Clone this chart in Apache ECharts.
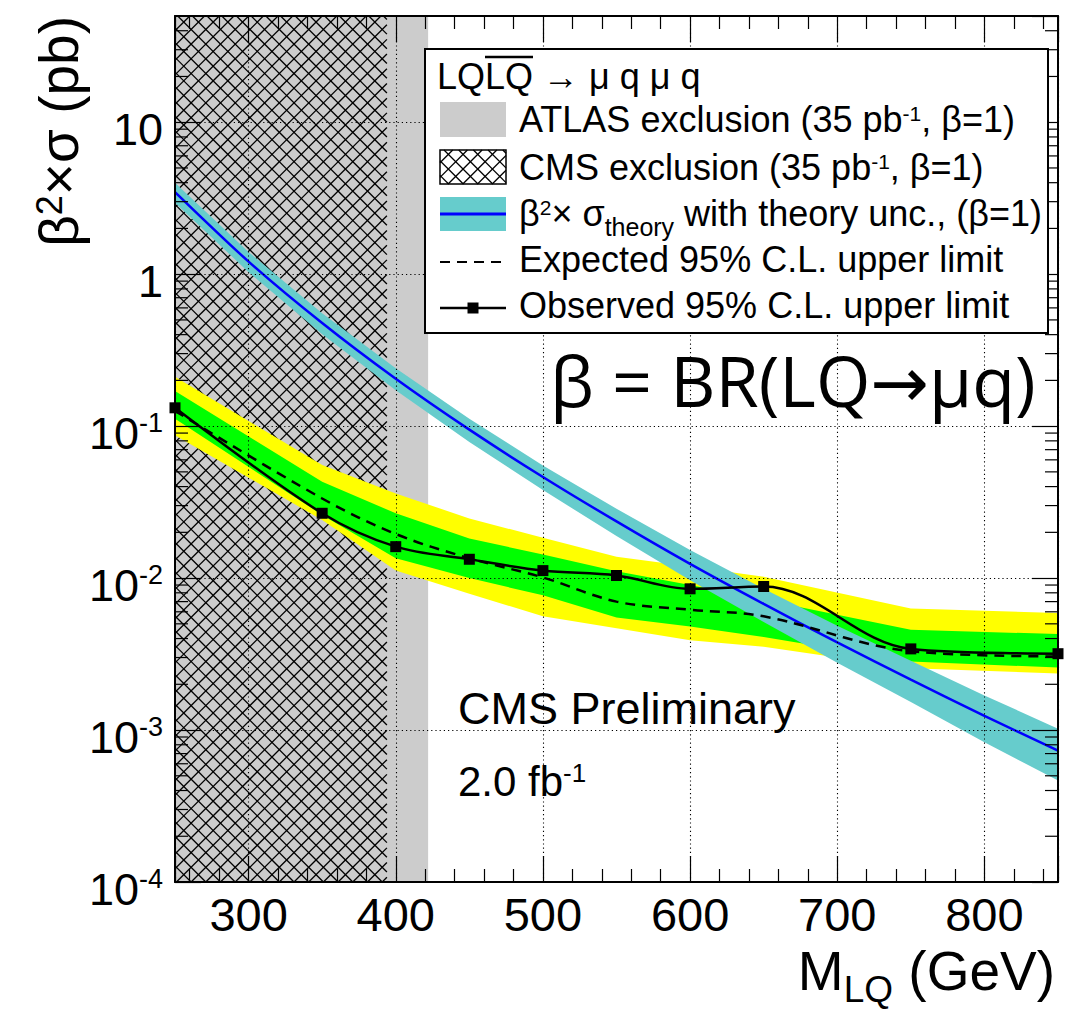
<!DOCTYPE html>
<html>
<head>
<meta charset="utf-8">
<script src="https://cdn.jsdelivr.net/npm/echarts@6/dist/echarts.min.js"></script>
<style>
html,body{margin:0;padding:0;background:#fff;}
#chart{width:1067px;height:1013px;}
</style>
</head>
<body>
<div id="chart"></div>
<script>
// ---------------- data ----------------
const massPoints    = [250, 350, 400, 450, 500, 550, 600, 650, 750, 850];
const observedLimit = [0.132, 0.0267, 0.0161, 0.0133, 0.0112, 0.0104, 0.0085, 0.0088, 0.00342, 0.00318];
const expectedLimit = [0.126, 0.0334, 0.0195, 0.0135, 0.0101, 0.0070, 0.0062, 0.0056, 0.0033, 0.00305];
const oneSigmaUp    = [0.170, 0.0430, 0.0267, 0.0182, 0.0143, 0.0111, 0.0090, 0.0072, 0.00457, 0.00428];
const oneSigmaDown  = [0.112, 0.0260, 0.0135, 0.0100, 0.0077, 0.0055, 0.0048, 0.0041, 0.00282, 0.00258];
const twoSigmaUp    = [0.211, 0.0554, 0.0360, 0.0247, 0.0184, 0.0138, 0.0119, 0.0102, 0.0063, 0.0059];
const twoSigmaDown  = [0.087, 0.0241, 0.0112, 0.0079, 0.0056, 0.00467, 0.0039, 0.00353, 0.00255, 0.00236];

const theoryMass = [250, 300, 350, 400, 450, 500, 550, 600, 650, 700, 750, 800, 850];
const theoryXsec = [3.47, 1.21, 0.477, 0.205, 0.0948, 0.0463, 0.0236, 0.0124, 0.00676, 0.00377, 0.00215, 0.00124, 0.000732];
const theoryUp   = [3.99, 1.40, 0.553, 0.240, 0.112, 0.0551, 0.0286, 0.0153, 0.00852, 0.00486, 0.00286, 0.00169, 0.00102];
const theoryDown = [2.95, 1.03, 0.403, 0.172, 0.0787, 0.0380, 0.0189, 0.00967, 0.00514, 0.00277, 0.00153, 0.000831, 0.000465];

const atlasExclusion = 422;   // GeV
const cmsExclusion   = 394;   // GeV

const xRange = [250, 850];
const yRange = [1e-4, 50];
const yTickLabels = { '-4': '10^-4', '-3': '10^-3', '-2': '10^-2', '-1': '10^-1', '0': '1', '1': '10' };
const yMinorTicks = [
  2e-4, 3e-4, 4e-4, 5e-4, 6e-4, 7e-4, 8e-4, 9e-4,
  2e-3, 3e-3, 4e-3, 5e-3, 6e-3, 7e-3, 8e-3, 9e-3,
  2e-2, 3e-2, 4e-2, 5e-2, 6e-2, 7e-2, 8e-2, 9e-2,
  0.2, 0.3, 0.4, 0.5, 0.6, 0.7, 0.8, 0.9,
  2, 3, 4, 5, 6, 7, 8, 9,
  20, 30, 40
];

// ---------------- styling ----------------
const F = '"Liberation Sans", Arial, Helvetica, sans-serif';
const GRAY = '#cccccc', CYAN = '#66cccc', BLUE = '#0000ff', GREEN = '#00ff00', YELLOW = '#ffff00';
const HATCH = 14.7;

function hatchLines(x0, y0, x1, y1, d, lw) {
  const out = [];
  const st = { stroke: '#000', lineWidth: lw };
  for (let c = Math.floor((y0 - x1) / d) * d; c <= y1 - x0; c += d) {
    const xa = Math.max(x0, y0 - c), xb = Math.min(x1, y1 - c);
    if (xb > xa) out.push({ type: 'line', shape: { x1: xa, y1: xa + c, x2: xb, y2: xb + c }, style: st });
  }
  for (let c = Math.floor((x0 + y0) / d) * d; c <= x1 + y1; c += d) {
    const xa = Math.max(x0, c - y1), xb = Math.min(x1, c - y0);
    if (xb > xa) out.push({ type: 'line', shape: { x1: xa, y1: c - xa, x2: xb, y2: c - xb }, style: st });
  }
  return out;
}

function bandSeries(name, xs, lo, hi, color, z) {
  return {
    type: 'custom', name: name, z: z, silent: true,
    data: xs.map((x, i) => [x, lo[i], hi[i]]),
    encode: { x: 0, y: [1, 2] },
    renderItem: function (params, api) {
      if (params.dataIndex !== 0) return null;
      const n = params.dataInsideLength;
      const pts = [];
      for (let j = 0; j < n; j++) pts.push(api.coord([api.value(0, j), api.value(2, j)]));
      for (let j = n - 1; j >= 0; j--) pts.push(api.coord([api.value(0, j), api.value(1, j)]));
      return { type: 'polygon', shape: { points: pts }, style: { fill: color } };
    }
  };
}

const chart = echarts.init(document.getElementById('chart'), null, { renderer: 'svg' });

const tickLine = { color: '#000', width: 1.2 };
const frameLine = { show: true, onZero: false, lineStyle: { color: '#000', width: 2 } };
const gridLine = { show: true, lineStyle: { color: '#000', width: 1.1, type: [1.2, 3] } };

const legendRich = {
  t: { fontFamily: F, fontSize: 36, lineHeight: 40, verticalAlign: 'top', color: '#000' },
  s: { fontFamily: F, fontSize: 21, lineHeight: 21, padding: [2, 0, 0, 0], verticalAlign: 'top', color: '#000' },
  d: { fontFamily: F, fontSize: 25, lineHeight: 25, padding: [19, 0, 0, 0], verticalAlign: 'top', color: '#000' }
};
function legendText(text, x, y) {
  return { type: 'text', x: x, y: y, z: 102, style: { text: text, fontFamily: F, fontSize: 36, fill: '#000', align: 'left', verticalAlign: 'middle', rich: legendRich } };
}

const LX0 = 440, LX1 = 506;
const legendGraphics = [
  { type: 'rect', z: 100, shape: { x: 425, y: 49, width: 623, height: 284 }, style: { fill: '#fff', stroke: '#000', lineWidth: 2 } },
  legendText('{t|LQLQ → μ q μ q}', 437, 78),
  { type: 'line', z: 102, shape: { x1: 485, y1: 57, x2: 533, y2: 57 }, style: { stroke: '#000', lineWidth: 2.5 } },
  { type: 'rect', z: 101, shape: { x: LX0, y: 102, width: LX1 - LX0, height: 35 }, style: { fill: GRAY } },
  legendText('{t|ATLAS exclusion (35 pb}{s|-1}{t|, β=1)}', 519, 121),
  { type: 'group', z: 101, children: hatchLines(LX0, 150, LX1, 184, HATCH, 1.3).map(e => Object.assign(e, { z: 101 })) },
  { type: 'rect', z: 102, shape: { x: LX0, y: 150, width: LX1 - LX0, height: 34 }, style: { fill: 'none', stroke: '#000', lineWidth: 1.5 } },
  legendText('{t|CMS exclusion (35 pb}{s|-1}{t|, β=1)}', 519, 169),
  { type: 'rect', z: 101, shape: { x: LX0, y: 197, width: LX1 - LX0, height: 34 }, style: { fill: CYAN } },
  { type: 'line', z: 102, shape: { x1: LX0, y1: 214, x2: LX1, y2: 214 }, style: { stroke: BLUE, lineWidth: 3 } },
  legendText('{t|β}{s|2}{t|× σ}{d|theory}{t| with theory unc., (β=1)}', 519, 215),
  { type: 'line', z: 102, shape: { x1: LX0, y1: 262, x2: LX1, y2: 262 }, style: { stroke: '#000', lineWidth: 2, lineDash: [10, 7] } },
  legendText('{t|Expected 95% C.L. upper limit}', 519, 261),
  { type: 'line', z: 102, shape: { x1: LX0, y1: 308, x2: LX1, y2: 308 }, style: { stroke: '#000', lineWidth: 2.5 } },
  { type: 'rect', z: 102, shape: { x: 467.5, y: 302.5, width: 11, height: 11 }, style: { fill: '#000' } },
  legendText('{t|Observed 95% C.L. upper limit}', 519, 307)
];

const textGraphics = [
  { type: 'text', x: 550, y: 380, z: 8, style: { text: 'β = BR(LQ→μq)', fontFamily: '"Open Sans", "DejaVu Sans", sans-serif', fontSize: 70, fill: '#000', align: 'left', verticalAlign: 'middle' } },
  { type: 'text', x: 458, y: 708, z: 8, style: { text: 'CMS Preliminary', fontFamily: F, fontSize: 45, fill: '#000', align: 'left', verticalAlign: 'middle' } },
  { type: 'text', x: 458, y: 781, z: 8, style: { text: '{t|2.0 fb}{s|-1}', fontFamily: F, fontSize: 42, fill: '#000', align: 'left', verticalAlign: 'middle',
      rich: { t: { fontFamily: F, fontSize: 42, lineHeight: 42, verticalAlign: 'top' }, s: { fontFamily: F, fontSize: 26, lineHeight: 26, verticalAlign: 'top' } } } }
];

const option = {
  animation: false,
  backgroundColor: '#ffffff',
  grid: { left: 175, right: 9, top: 16, bottom: 131, containLabel: false, outerBoundsMode: 'none' },
  xAxis: [
    {
      type: 'value', min: xRange[0], max: xRange[1], splitNumber: 6, z: 10,
      axisLine: frameLine,
      axisTick: { show: true, inside: true, length: 26, lineStyle: tickLine },
      minorTick: { show: true, splitNumber: 5, length: 13, lineStyle: tickLine },
      splitLine: gridLine,
      axisLabel: { show: true, margin: 9, fontFamily: F, fontSize: 47, color: '#000', showMinLabel: false, showMaxLabel: false },
      name: '{m|M}{sub|LQ}{m| (GeV)}',
      nameLocation: 'end', nameGap: -3, nameMoveOverlap: false,
      nameTextStyle: {
        align: 'right', verticalAlign: 'top', padding: [61, 0, 0, 0], color: '#000',
        rich: {
          m: { fontFamily: F, fontSize: 55, lineHeight: 55, verticalAlign: 'top', color: '#000' },
          sub: { fontFamily: F, fontSize: 37, lineHeight: 32, padding: [28, 0, 0, 0], verticalAlign: 'top', color: '#000' }
        }
      }
    },
    {
      type: 'value', position: 'top', min: xRange[0], max: xRange[1], splitNumber: 6, z: 10,
      axisLine: frameLine,
      axisTick: { show: true, inside: true, length: 26, lineStyle: tickLine },
      minorTick: { show: true, splitNumber: 5, length: 13, lineStyle: tickLine },
      splitLine: { show: false },
      axisLabel: { show: false }
    }
  ],
  yAxis: [
    {
      type: 'log', logBase: 10, min: yRange[0], max: yRange[1], splitNumber: 6, z: 10,
      axisLine: frameLine,
      axisTick: { show: true, inside: true, length: 26, lineStyle: tickLine },
      minorTick: { show: false },
      splitLine: gridLine,
      axisLabel: {
        show: true, margin: 12, showMaxLabel: false,
        formatter: function (v) {
          const lab = yTickLabels[String(Math.round(Math.log10(v)))];
          if (!lab) return '';
          const parts = lab.split('^');
          return parts.length === 1 ? '{b|' + parts[0] + '}' : '{b|' + parts[0] + '}{s|' + parts[1] + '}';
        },
        rich: {
          b: { fontFamily: F, fontSize: 45, lineHeight: 50, padding: [10, 0, 0, 0], verticalAlign: 'top', color: '#000' },
          s: { fontFamily: F, fontSize: 27, lineHeight: 28, padding: [8, 0, 0, 0], verticalAlign: 'top', color: '#000' }
        }
      },
      name: '{b|β}{s|2}{b|×σ (pb)}',
      nameLocation: 'end', nameRotate: 90, nameGap: 0, nameMoveOverlap: false,
      nameTextStyle: {
        align: 'right', verticalAlign: 'bottom', padding: [0, 0, 84, 0], color: '#000',
        rich: {
          b: { fontFamily: F, fontSize: 55, lineHeight: 60, verticalAlign: 'top', color: '#000' },
          s: { fontFamily: F, fontSize: 36, lineHeight: 36, verticalAlign: 'top', color: '#000' }
        }
      }
    },
    {
      type: 'log', logBase: 10, position: 'right', min: yRange[0], max: yRange[1], splitNumber: 6, z: 10,
      axisLine: frameLine,
      axisTick: { show: true, inside: true, length: 26, lineStyle: tickLine },
      minorTick: { show: false },
      splitLine: { show: false },
      axisLabel: { show: false }
    }
  ],
  graphic: { elements: textGraphics.concat(legendGraphics) },
  series: [
    {
      type: 'custom', name: 'ATLAS exclusion', z: 1, silent: true,
      data: [[atlasExclusion, 1]], encode: { x: 0, y: 1 },
      renderItem: function (params, api) {
        const cs = params.coordSys;
        const x1 = api.coord([api.value(0), api.value(1)])[0];
        return { type: 'rect', shape: { x: cs.x, y: cs.y, width: x1 - cs.x, height: cs.height }, style: { fill: GRAY } };
      }
    },
    {
      type: 'custom', name: 'CMS exclusion', z: 1, silent: true,
      data: [[cmsExclusion, 1]], encode: { x: 0, y: 1 },
      renderItem: function (params, api) {
        const cs = params.coordSys;
        const x1 = api.coord([api.value(0), api.value(1)])[0];
        return { type: 'group', children: hatchLines(cs.x, cs.y, x1, cs.y + cs.height, HATCH, 1.3) };
      }
    },
    bandSeries('Expected ±2σ', massPoints, twoSigmaDown, twoSigmaUp, YELLOW, 2),
    bandSeries('Expected ±1σ', massPoints, oneSigmaDown, oneSigmaUp, GREEN, 2),
    bandSeries('Theory uncertainty', theoryMass, theoryDown, theoryUp, CYAN, 3),
    {
      type: 'line', name: 'Theory', z: 4, silent: true,
      data: theoryMass.map((m, i) => [m, theoryXsec[i]]),
      showSymbol: false, smooth: 0.25,
      lineStyle: { color: BLUE, width: 2.5 }
    },
    {
      type: 'line', name: 'Expected 95% C.L. upper limit', z: 5, silent: true,
      data: massPoints.map((m, i) => [m, expectedLimit[i]]),
      showSymbol: false, smooth: 0.35,
      lineStyle: { color: '#000', width: 2.5, type: [10, 7] }
    },
    {
      type: 'line', name: 'Observed 95% C.L. upper limit', z: 6, silent: true, clip: false,
      data: massPoints.map((m, i) => [m, observedLimit[i]]),
      smooth: 0.35, symbol: 'rect', symbolSize: 11, showSymbol: true,
      itemStyle: { color: '#000' },
      lineStyle: { color: '#000', width: 2.5 }
    },
    {
      type: 'custom', name: 'minor y ticks', z: 10, silent: true,
      data: yMinorTicks.map(v => [xRange[0], v]), encode: { x: 0, y: 1 },
      renderItem: function (params, api) {
        const cs = params.coordSys;
        const y = api.coord([api.value(0), api.value(1)])[1];
        const st = { stroke: '#000', lineWidth: 1.2 };
        return { type: 'group', children: [
          { type: 'line', shape: { x1: cs.x, y1: y, x2: cs.x + 13, y2: y }, style: st },
          { type: 'line', shape: { x1: cs.x + cs.width - 13, y1: y, x2: cs.x + cs.width, y2: y }, style: st }
        ] };
      }
    }
  ]
};
chart.setOption(option);
</script>
</body>
</html>
